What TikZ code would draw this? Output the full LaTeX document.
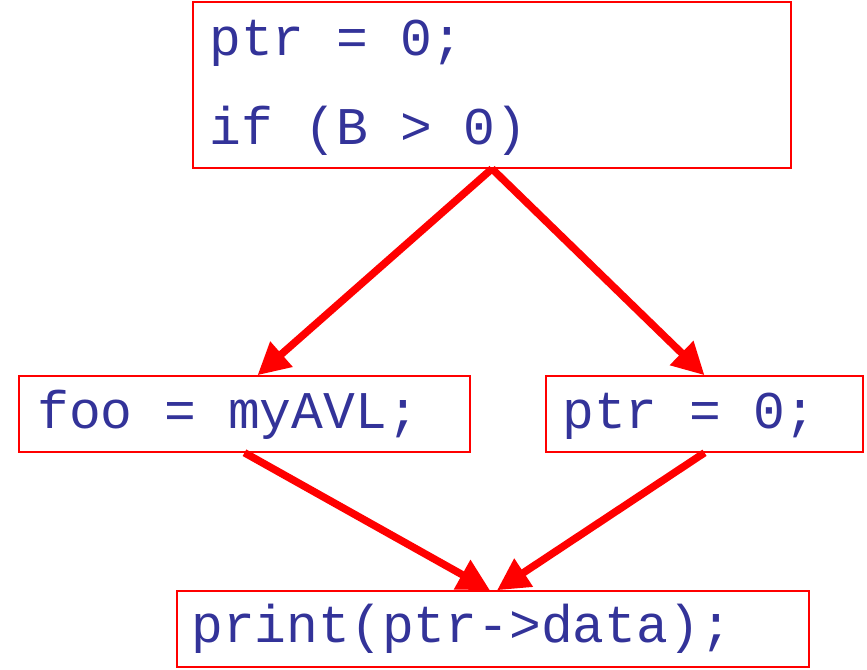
\documentclass[tikz,border=0pt]{standalone}
\usepackage{fontspec}
\setmonofont{Liberation Mono}
\usetikzlibrary{arrows.meta,calc}
\definecolor{codeblue}{RGB}{51,51,153}
\definecolor{boxred}{RGB}{255,0,0}
\tikzset{
  blk/.style={draw=boxred, line width=1.5pt, rectangle, inner sep=0pt},
  code/.style={anchor=base west, inner sep=0pt, text=codeblue, font=\ttfamily\fontsize{53}{53}\selectfont},
  flow/.style={draw=boxred, line width=7.5pt, -{Triangle[length=32pt,width=32pt]}, shorten >=0pt}
}
\begin{document}
\begin{tikzpicture}[x=1pt,y=1pt]
\useasboundingbox (0,0) rectangle (867,-669);
\node[blk, minimum width=598pt, minimum height=166pt] (top) at (492,-85) {};
\node[blk, minimum width=451pt, minimum height=76pt] (left) at (244.5,-414) {};
\node[blk, minimum width=317pt, minimum height=76pt] (right) at (704.5,-414) {};
\node[blk, minimum width=632pt, minimum height=76pt] (bottom) at (493,-629) {};
\node[code] (t1) at (209,-56) {ptr = 0;};
\node[code] (t2) at (209,-144) {if (B > 0)};
\node[code] (l1) at (37,-428) {foo = myAVL;};
\node[code] (r1) at (562,-428) {ptr = 0;};
\node[code] (b1) at (191,-642) {print(ptr->data);};
\draw[flow] (top.south) -- ([xshift=13pt]left.north);
\draw[flow] (top.south) -- (right.north);
\draw[flow] (left.south) -- ([xshift=-3pt]bottom.north);
\draw[flow] (right.south) -- ([xshift=4pt]bottom.north);
\end{tikzpicture}
\end{document}
